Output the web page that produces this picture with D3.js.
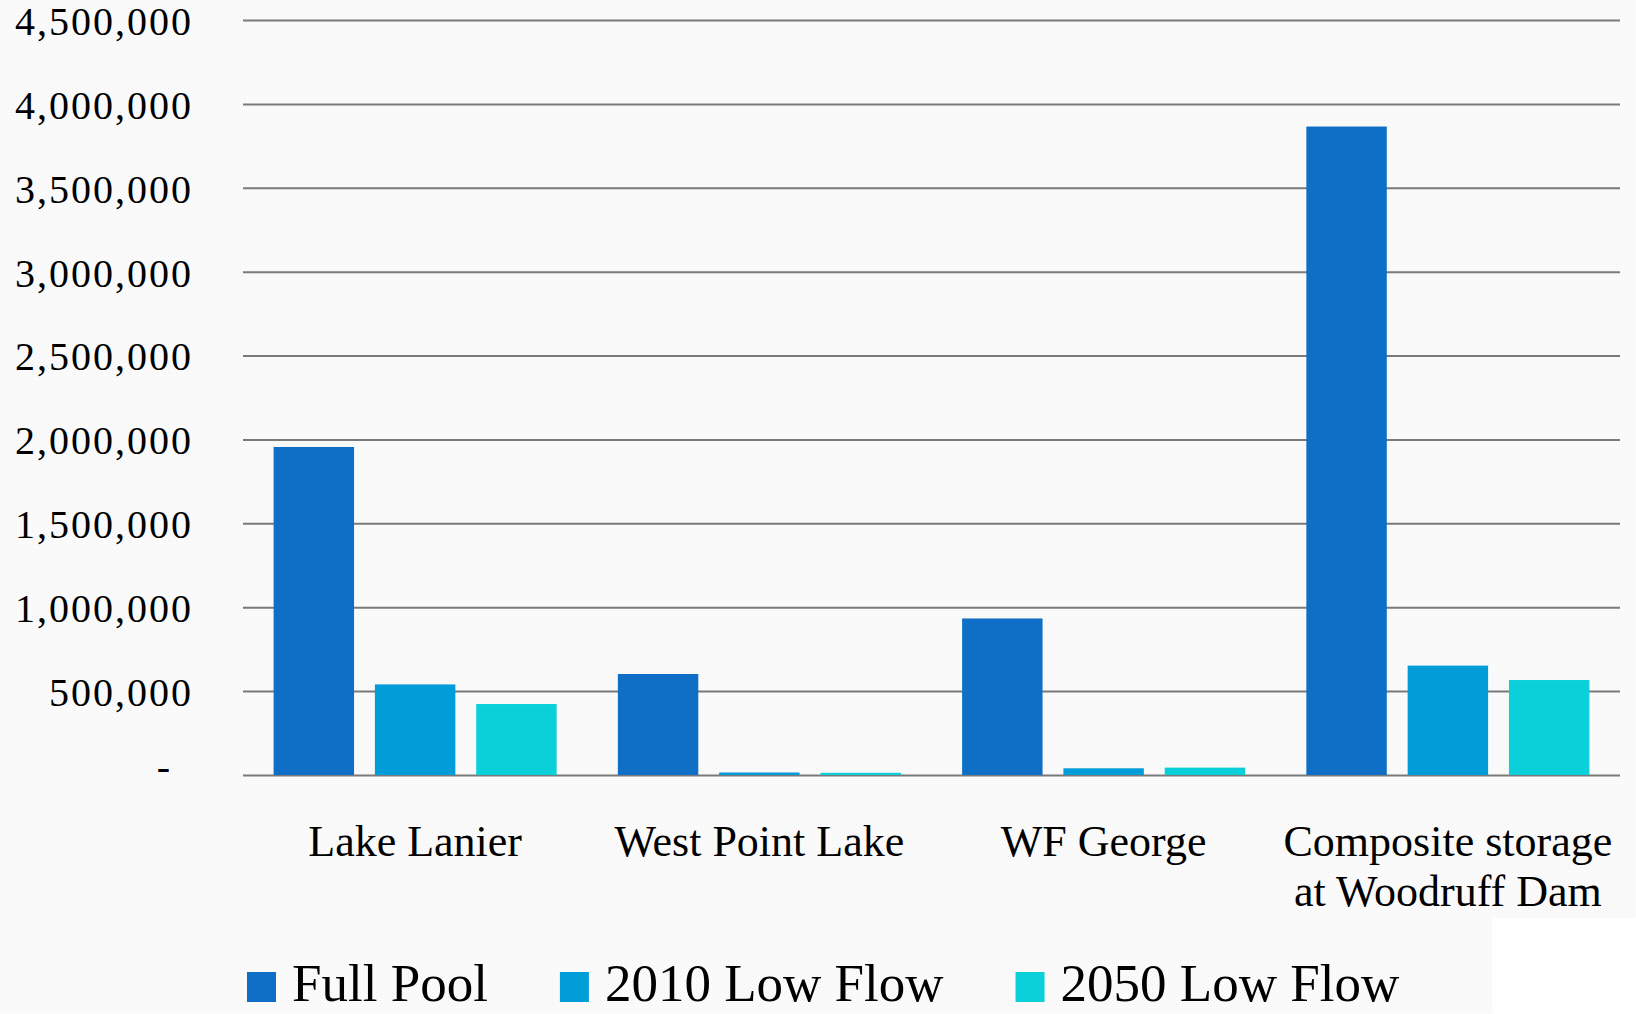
<!DOCTYPE html>
<html>
<head>
<meta charset="utf-8">
<script src="https://cdn.jsdelivr.net/npm/d3@7"></script>
<style>
html, body { margin: 0; padding: 0; background: #ffffff; }
svg { display: block; }
</style>
</head>
<body>
<svg id="chart" width="1636" height="1014"></svg>
<script>
// ---- data ----
const categories = ["Lake Lanier", "West Point Lake", "WF George", "Composite storage\nat Woodruff Dam"];
const seriesNames = ["Full Pool", "2010 Low Flow", "2050 Low Flow"];
const fullPool   = [1955000, 602000, 933000, 3865000];
const low2010    = [540000, 15000, 40000, 652000];
const low2050    = [423000, 13000, 44000, 566000];
const tickValues = [0, 500000, 1000000, 1500000, 2000000, 2500000, 3000000, 3500000, 4000000, 4500000];
const seriesColors = ["#0f6fc6", "#009dd9", "#0bd0d9"];

(function () {
const seriesValues = [fullPool, low2010, low2050];
const rows = categories.map((c, i) => ({
  category: c,
  values: seriesNames.map((s, j) => ({ series: s, value: seriesValues[j][i] }))
}));

const svg = d3.select("#chart");
const W = 1636, H = 1014;
const mLeft = 243, mRight = 1620, mTop = 20, mBottom = 775;

// background texture
const defs = svg.append("defs");
const pat = defs.append("pattern").attr("id", "tex").attr("width", 4).attr("height", 4)
  .attr("patternUnits", "userSpaceOnUse");
pat.append("rect").attr("width", 4).attr("height", 4).attr("fill", "#fbfbfb");
pat.append("rect").attr("x", 0).attr("y", 0).attr("width", 1).attr("height", 1).attr("fill", "#f1f1f1");
pat.append("rect").attr("x", 2).attr("y", 2).attr("width", 1).attr("height", 1).attr("fill", "#f1f1f1");
svg.append("rect").attr("width", W).attr("height", H).attr("fill", "url(#tex)");
svg.append("rect").attr("x", 1492).attr("y", 918).attr("width", W - 1492).attr("height", H - 918).attr("fill", "#ffffff");

const y = d3.scaleLinear().domain([0, 4500000]).range([mBottom, mTop]);
const x0 = d3.scaleBand().domain(categories).range([mLeft, mRight]).paddingInner(0).paddingOuter(0);
const x1 = d3.scaleBand().domain(seriesNames).range([0, x0.bandwidth()]).paddingInner(0.206).paddingOuter(0.302);
const color = d3.scaleOrdinal().domain(seriesNames).range(seriesColors);

// y axis with gridlines
const yAxis = d3.axisLeft(y)
  .tickValues(tickValues)
  .tickSize(-(mRight - mLeft))
  .tickPadding(mLeft - 193)
  .tickFormat(d => d === 0 ? "-" : d3.format(",")(d));
const gy = svg.append("g").attr("transform", `translate(${mLeft},0)`).call(yAxis);
gy.select(".domain").remove();
gy.selectAll(".tick line").attr("stroke", "#7a7a7a").attr("stroke-width", 2);
gy.selectAll(".tick text")
  .attr("font-family", "'Liberation Serif', serif")
  .attr("font-size", 40)
  .attr("letter-spacing", 2)
  .attr("fill", "#000")
  .attr("dy", "0.36em");
gy.selectAll(".tick text").filter(d => d === 0).attr("x", -(mLeft - 172)).attr("dy", "0.1em");

// bars
const groups = svg.append("g").selectAll("g").data(rows).join("g")
  .attr("transform", d => `translate(${x0(d.category)},0)`);
groups.selectAll("rect").data(d => d.values).join("rect")
  .attr("x", d => x1(d.series))
  .attr("width", x1.bandwidth())
  .attr("y", d => y(d.value))
  .attr("height", d => y(0) - y(d.value))
  .attr("fill", d => color(d.series));

// category labels
const catG = svg.append("g");
categories.forEach(c => {
  const lines = c.split("\n");
  const t = catG.append("text")
    .attr("x", x0(c) + x0.bandwidth() / 2)
    .attr("y", 856)
    .attr("text-anchor", "middle")
    .attr("font-family", "'Liberation Serif', serif")
    .attr("font-size", 44)
    .attr("fill", "#000");
  lines.forEach((ln, i) => {
    t.append("tspan").attr("x", x0(c) + x0.bandwidth() / 2).attr("dy", i === 0 ? 0 : 50).text(ln);
  });
});

// legend
const leg = svg.append("g");
let lx = 247;
seriesNames.forEach((s, i) => {
  leg.append("rect").attr("x", lx).attr("y", 972).attr("width", 29).attr("height", 30).attr("fill", color(s));
  const t = leg.append("text").attr("x", lx + 45).attr("y", 1001)
    .attr("font-family", "'Liberation Serif', serif")
    .attr("font-size", 53)
    .attr("fill", "#000")
    .text(s);
  const w = t.node().getComputedTextLength();
  lx = lx + 45 + w + 72;
});
})();
</script>
</body>
</html>
